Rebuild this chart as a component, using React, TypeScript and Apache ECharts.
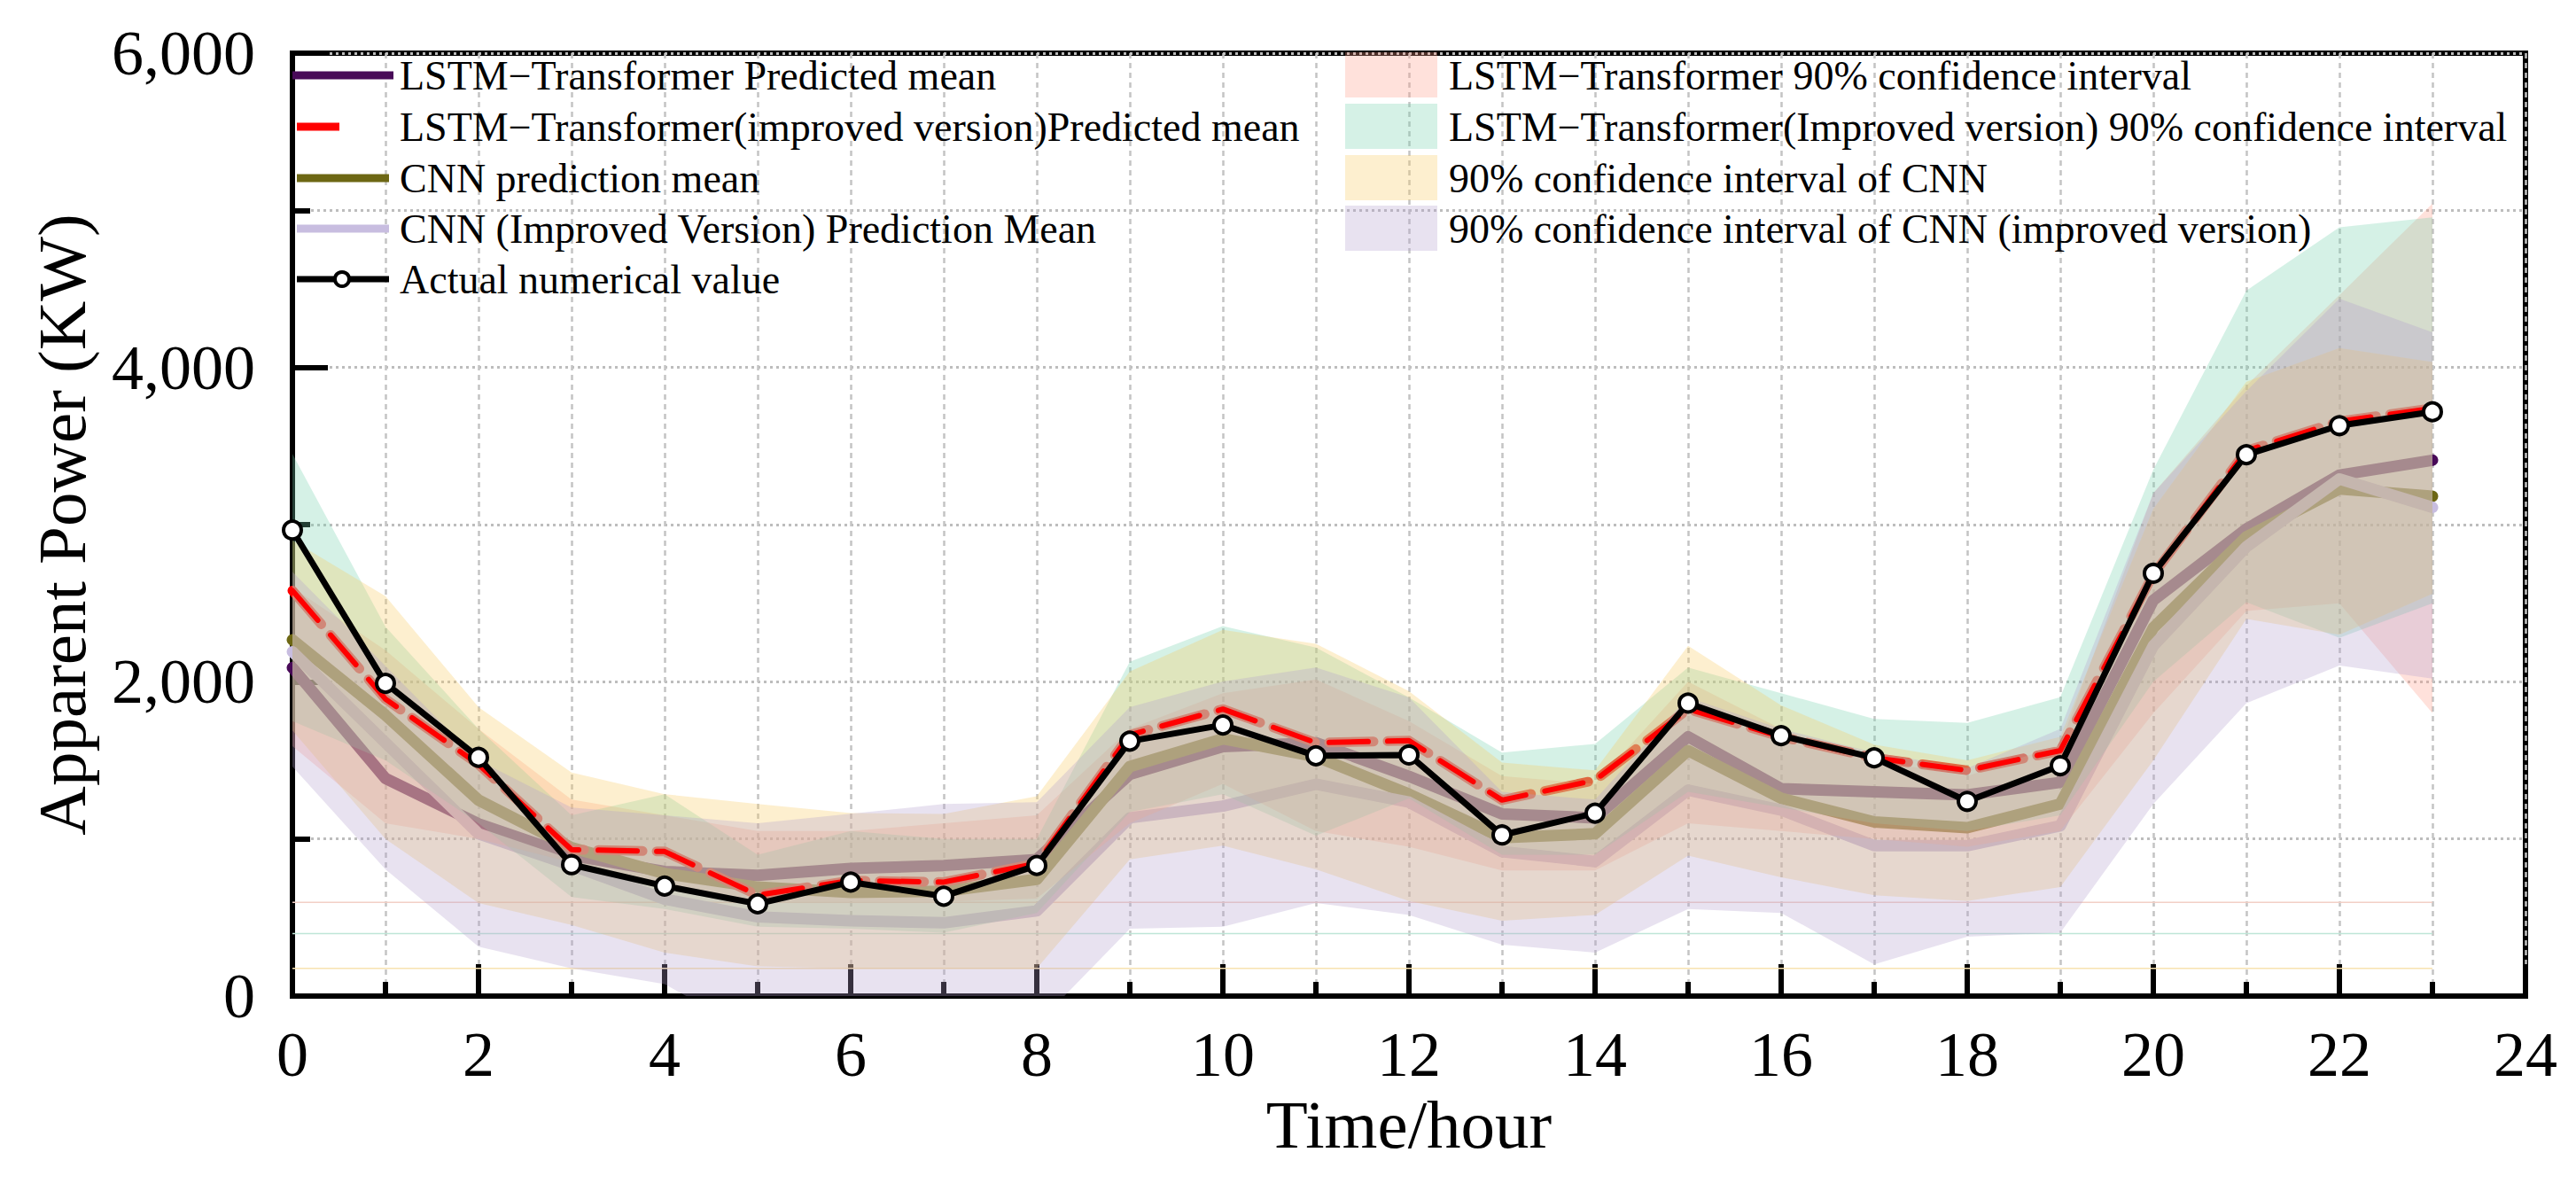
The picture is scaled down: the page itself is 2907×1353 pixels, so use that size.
import React, { useEffect, useRef } from "react";
import * as echarts from "echarts";

const hours = [0, 1, 2, 3, 4, 5, 6, 7, 8, 9, 10, 11, 12, 13, 14, 15, 16, 17, 18, 19, 20, 21, 22, 23];

const actual = [2965, 1990, 1519, 836, 700, 587, 725, 635, 831, 1622, 1725, 1529, 1534, 1025, 1164, 1864, 1657, 1516, 1239, 1466, 2690, 3445, 3630, 3718];
const lstmImproved = [2580, 1890, 1474, 932, 920, 642, 735, 725, 844, 1662, 1826, 1612, 1625, 1247, 1373, 1826, 1650, 1516, 1436, 1562, 2683, 3470, 3657, 3740];
const lstmMean = [2090, 1385, 1096, 894, 793, 768, 812, 831, 869, 1411, 1587, 1612, 1398, 1159, 1134, 1650, 1320, 1300, 1280, 1360, 2519, 2972, 3315, 3410];
const cnnMean = [2267, 1788, 1247, 945, 780, 693, 660, 667, 743, 1461, 1637, 1524, 1285, 1008, 1033, 1562, 1259, 1108, 1071, 1222, 2343, 2922, 3227, 3180];
const cnnImpMean = [2191, 1612, 1033, 831, 617, 504, 479, 466, 542, 1134, 1209, 1348, 1234, 919, 856, 1310, 1184, 957, 957, 1083, 2229, 2859, 3290, 3110];

const lstmCiLow = [1590, 1100, 1000, 850, 700, 600, 600, 600, 620, 1100, 1350, 1050, 950, 800, 800, 1100, 1050, 1000, 950, 1050, 1800, 2450, 2500, 1800];
const lstmCiHigh = [2600, 2200, 1700, 1250, 1150, 1050, 1050, 1100, 1150, 1700, 1927, 2015, 1750, 1400, 1350, 2000, 1700, 1500, 1400, 1600, 3200, 3884, 4460, 5043];
const lstmImpCiLow = [1750, 1500, 1100, 630, 554, 441, 428, 403, 529, 1171, 1285, 1020, 1259, 900, 900, 1300, 1200, 1100, 1050, 1150, 2000, 2506, 2280, 2500];
const lstmImpCiHigh = [3450, 2350, 1700, 1150, 1285, 900, 1050, 1000, 1000, 2128, 2355, 2217, 1900, 1549, 1605, 2090, 1927, 1763, 1738, 1902, 3350, 4489, 4892, 4955];
const cnnCiLow = [1690, 1000, 592, 453, 277, 189, 176, 176, 176, 870, 957, 806, 605, 479, 516, 894, 756, 642, 605, 693, 1500, 2400, 2300, 2560];
const cnnCiHigh = [2900, 2544, 1839, 1423, 1285, 1222, 1165, 1159, 1272, 2065, 2330, 2242, 1940, 1486, 1436, 2229, 1850, 1600, 1500, 1650, 3100, 3909, 4123, 4035];
const cnnImpCiLow = [1460, 806, 315, 176, 76, -250, -230, -220, -180, 428, 441, 592, 516, 327, 277, 554, 529, 202, 378, 403, 1222, 1864, 2103, 2020];
const cnnImpCiHigh = [2700, 2100, 1500, 1200, 1150, 1100, 1160, 1222, 1234, 1839, 2002, 2091, 1900, 1300, 1250, 1900, 1700, 1550, 1450, 1700, 3200, 3850, 4438, 4224];

const faintLevels = [597, 398, 176];

const lineNames = [
  "LSTM\u2212Transformer Predicted mean",
  "LSTM\u2212Transformer(improved version)Predicted mean",
  "CNN prediction mean",
  "CNN (Improved Version) Prediction Mean",
  "Actual numerical value",
];
const bandNames = [
  "LSTM\u2212Transformer 90% confidence interval",
  "LSTM\u2212Transformer(Improved version) 90% confidence interval",
  "90% confidence interval of CNN",
  "90% confidence interval of CNN (improved version)",
];

const FONT = "'Liberation Serif', 'Times New Roman', serif";
const C_PURPLE = "#480a58";
const C_RED = "#ff0000";
const C_OLIVE = "#6d6714";
const C_LAV = "#c8bde0";
const BAND_COLORS = ["#ff9a88", "#73d0ac", "#f8ca5f", "#b29ecd"];
const FAINT_COLORS = ["#f2cfc6", "#bfe6d8", "#f8e2b0"];
const BAND_ALPHA = 0.3;

function hexToRgba(hex: string, a: number) {
  const r = parseInt(hex.slice(1, 3), 16);
  const g = parseInt(hex.slice(3, 5), 16);
  const b = parseInt(hex.slice(5, 7), 16);
  return `rgba(${r},${g},${b},${a})`;
}

function pairs(vals: number[]) {
  return hours.map((h, i) => [h, vals[i]]);
}

function bandSeries(id: string, lo: number[], hi: number[], color: string) {
  return {
    type: "custom",
    id,
    clip: true,
    silent: true,
    z: 3,
    data: [[hours[0], lo[0]]],
    renderItem: (_params: any, api: any) => {
      const upper = hours.map((h, i) => api.coord([h, hi[i]]));
      const lower = hours.map((h, i) => api.coord([h, lo[i]])).reverse();
      return {
        type: "polygon",
        shape: { points: upper.concat(lower) },
        style: { fill: hexToRgba(color, BAND_ALPHA), stroke: "none" },
      };
    },
  };
}

export default function App() {
  const ref = useRef<HTMLDivElement>(null);

  useEffect(() => {
    document.body.style.margin = "0";
    document.body.style.overflow = "hidden";
    const el = ref.current!;
    const chart = echarts.init(el, undefined, { renderer: "svg" });

    const gridLine = { color: "#c4c4c4", width: 2.5, type: [6, 5] as any };
    const gridLineH = { color: "#bdbdbd", width: 3, type: [3, 4] as any };

    const faintSeries = faintLevels.map((v, i) => ({
      type: "line",
      id: "faint" + i,
      data: [
        [hours[0], v],
        [hours[hours.length - 1], v],
      ],
      symbol: "none",
      silent: true,
      lineStyle: { color: FAINT_COLORS[i], width: 1.5 },
      z: 1,
    }));

    const legendLeftX = 335;
    const rowsY = [85, 143, 201, 258, 315];
    const graphics: any[] = [];
    graphics.push({ type: "line", shape: { x1: 330, y1: rowsY[0], x2: 444, y2: rowsY[0] }, style: { stroke: C_PURPLE, lineWidth: 9 }, z: 10 });
    graphics.push({ type: "line", shape: { x1: legendLeftX, y1: rowsY[1], x2: 383, y2: rowsY[1] }, style: { stroke: C_RED, lineWidth: 9 }, z: 10 });
    graphics.push({ type: "line", shape: { x1: legendLeftX, y1: rowsY[2], x2: 439, y2: rowsY[2] }, style: { stroke: C_OLIVE, lineWidth: 9 }, z: 10 });
    graphics.push({ type: "line", shape: { x1: legendLeftX, y1: rowsY[3], x2: 439, y2: rowsY[3] }, style: { stroke: C_LAV, lineWidth: 9 }, z: 10 });
    graphics.push({ type: "line", shape: { x1: legendLeftX, y1: rowsY[4], x2: 439, y2: rowsY[4] }, style: { stroke: "#000", lineWidth: 7 }, z: 10 });
    graphics.push({ type: "circle", shape: { cx: 386, cy: rowsY[4], r: 8 }, style: { fill: "#fff", stroke: "#000", lineWidth: 4 }, z: 11 });
    lineNames.forEach((t, i) => {
      graphics.push({
        type: "text",
        x: 451,
        y: rowsY[i],
        style: { text: t, font: `46px ${FONT}`, fill: "#000", textVerticalAlign: "middle", textAlign: "left" },
        z: 10,
      });
    });
    bandNames.forEach((t, i) => {
      graphics.push({
        type: "rect",
        shape: { x: 1518, y: rowsY[i] - 26, width: 104, height: 51 },
        style: { fill: hexToRgba(BAND_COLORS[i], BAND_ALPHA) },
        z: 10,
      });
      graphics.push({
        type: "text",
        x: 1635,
        y: rowsY[i],
        style: { text: t, font: `46px ${FONT}`, fill: "#000", textVerticalAlign: "middle", textAlign: "left" },
        z: 10,
      });
    });

    const option: any = {
      animation: false,
      backgroundColor: "#fff",
      grid: { left: 330, top: 60, width: 2520, height: 1064, show: true, borderColor: "#000", borderWidth: 6, containLabel: false },
      xAxis: {
        type: "value",
        min: 0,
        max: 24,
        interval: 2,
        name: "Time/hour",
        nameLocation: "middle",
        nameGap: 100,
        nameTextStyle: { fontSize: 77, fontFamily: FONT, color: "#000" },
        axisLine: { show: true, lineStyle: { color: "#000", width: 6 } },
        axisTick: { show: true, inside: true, length: 36, lineStyle: { color: "#000", width: 6 } },
        minorTick: { show: true, splitNumber: 2, length: 16, lineStyle: { color: "#000", width: 6 } },
        splitLine: { show: true, lineStyle: gridLine },
        minorSplitLine: { show: true, lineStyle: gridLine },
        axisLabel: { fontSize: 72, fontFamily: FONT, color: "#000", margin: 30 },
      },
      yAxis: {
        type: "value",
        min: 0,
        max: 6000,
        interval: 2000,
        name: "Apparent Power (KW)",
        nameLocation: "middle",
        nameGap: 222,
        nameTextStyle: { fontSize: 77, fontFamily: FONT, color: "#000" },
        axisLine: { show: true, lineStyle: { color: "#000", width: 6 } },
        axisTick: { show: true, inside: true, length: 40, lineStyle: { color: "#000", width: 6 } },
        minorTick: { show: true, splitNumber: 2, length: 20, lineStyle: { color: "#000", width: 6 } },
        splitLine: { show: true, lineStyle: gridLineH },
        minorSplitLine: { show: true, lineStyle: gridLineH },
        axisLabel: {
          fontSize: 72,
          fontFamily: FONT,
          color: "#000",
          margin: 42,
          formatter: (v: number) => v.toLocaleString("en-US"),
        },
      },
      graphic: graphics,
      series: [
        ...faintSeries,
        {
          type: "line",
          id: "lstmMean",
          data: pairs(lstmMean),
          symbol: "none",
          lineStyle: { color: C_PURPLE, width: 13, cap: "round", join: "round" },
          z: 2,
        },
        {
          type: "line",
          id: "cnnMean",
          data: pairs(cnnMean),
          symbol: "none",
          lineStyle: { color: C_OLIVE, width: 13, cap: "round", join: "round" },
          z: 2,
        },
        {
          type: "line",
          id: "cnnImpMean",
          data: pairs(cnnImpMean),
          symbol: "none",
          lineStyle: { color: C_LAV, width: 13, cap: "round", join: "round" },
          z: 2,
        },
        {
          type: "line",
          id: "lstmImpHalo",
          data: pairs(lstmImproved),
          symbol: "none",
          lineStyle: { color: C_RED, width: 11, type: [50, 16], cap: "round", join: "round" },
          z: 2,
        },
        bandSeries("bandLstm", lstmCiLow, lstmCiHigh, BAND_COLORS[0]),
        bandSeries("bandLstmImp", lstmImpCiLow, lstmImpCiHigh, BAND_COLORS[1]),
        bandSeries("bandCnn", cnnCiLow, cnnCiHigh, BAND_COLORS[2]),
        bandSeries("bandCnnImp", cnnImpCiLow, cnnImpCiHigh, BAND_COLORS[3]),
        {
          type: "line",
          id: "lstmImp",
          data: pairs(lstmImproved),
          symbol: "none",
          lineStyle: { color: C_RED, width: 6, type: [44, 22], cap: "round", join: "round" },
          z: 4,
        },
        {
          type: "line",
          id: "actual",
          data: pairs(actual),
          symbol: "circle",
          symbolSize: 20,
          itemStyle: { color: "#fff", borderColor: "#000", borderWidth: 4 },
          lineStyle: { color: "#000", width: 7 },
          z: 5,
        },
      ],
    };

    chart.setOption(option);
    return () => {
      chart.dispose();
    };
  }, []);

  return <div ref={ref} style={{ width: 2907, height: 1353 }} />;
}
